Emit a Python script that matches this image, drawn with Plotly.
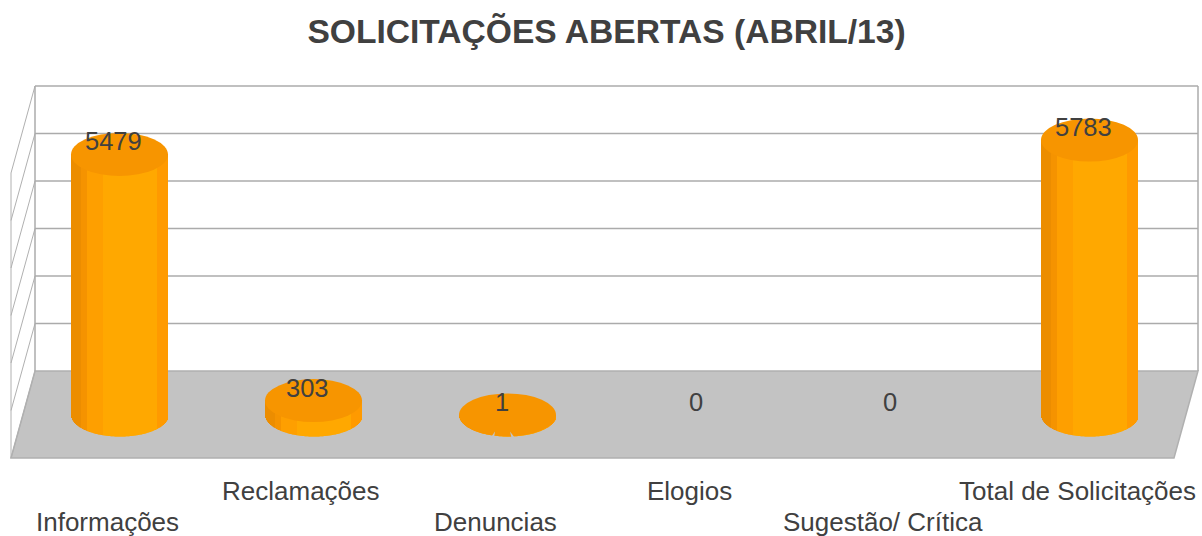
import math
import plotly.graph_objects as go

# ---- chart content ----
CATEGORIES = ["Informações", "Reclamações", "Denuncias", "Elogios", "Sugestão/ Crítica", "Total de Solicitações"]
VALUES = [5479, 303, 1, 0, 0, 5783]
LABEL_ROW = [1, 0, 1, 0, 1, 0]
TITLE = "SOLICITAÇÕES ABERTAS (ABRIL/13)"
GRID_STEPS = [0, 1, 2, 3, 4, 5, 6]

# ---- style ----
W, H = 1202, 536
AXIS_PX = 476
X0_PX, STEP_PX = 119.5, 194.0
ZERO_PX = 415.0
PX_PER_UNIT = 0.04755
RADIUS_PX = 48.5
ELLIPSE_PX = 21.5
TEXT = "#404040"
TOP_COLOR = "#F79500"
BAND_EDGES = [-48.5, -38, -32, -16, 38, 48.5]
BAND_COLORS = ["#EC8D00", "#F59300", "#FE9F00", "#FFA800", "#FF9A00"]
ROW_PX = [491, 522]

x_range = [(0 - X0_PX) / STEP_PX, (W - X0_PX) / STEP_PX]
y_range = [(ZERO_PX - AXIS_PX) / PX_PER_UNIT, ZERO_PX / PX_PER_UNIT]

def px(x):
    return x / W

def py(y):
    return 1 - y / AXIS_PX

def band_color(u):
    for k, c in enumerate(BAND_COLORS):
        if u < BAND_EDGES[k + 1]:
            return c
    return BAND_COLORS[-1]

# cylinder bodies: thin vertical strips per category
bx, by, bbase, boff, bw, bc = [], [], [], [], [], []
for i, v in enumerate(VALUES):
    if v <= 0:
        continue
    u = -RADIUS_PX
    while u < RADIUS_PX:
        mid = u + 0.5
        arc = ELLIPSE_PX * math.sqrt(max(0, 1 - (mid / RADIUS_PX) ** 2)) / PX_PER_UNIT
        bx.append(i)
        bbase.append(-arc)
        by.append(v + arc)
        boff.append(u / STEP_PX)
        bw.append(min(2.0, RADIUS_PX - u) / STEP_PX)
        bc.append(band_color(mid))
        u += 1

fig = go.Figure(go.Bar(
    x=bx, y=by, base=bbase, offset=boff, width=bw,
    marker=dict(color=bc, line=dict(width=0)),
    hoverinfo="skip", showlegend=False,
))

shapes = []
GRID = "#ABABAB"
FLOOR = "#C3C3C3"
BX0, BX1 = 35, 1198
FLOOR_BACK, GRID_PX = 371, 47.5
DEPTH_X, DEPTH_Y = 24, 87

def poly(points, fill=None, color=GRID, width=1.5, layer="below"):
    path = "M " + " L ".join(f"{px(a)},{py(b)}" for a, b in points) + (" Z" if fill else "")
    return dict(type="path", xref="paper", yref="paper", path=path, layer=layer,
                fillcolor=fill or "rgba(0,0,0,0)", line=dict(color=color, width=width))

shapes.append(poly([(BX0, FLOOR_BACK), (BX1, FLOOR_BACK), (BX1 - DEPTH_X, FLOOR_BACK + DEPTH_Y),
                    (BX0 - DEPTH_X, FLOOR_BACK + DEPTH_Y)], fill=FLOOR, color="#B0B0B0"))
for k in GRID_STEPS:
    y = FLOOR_BACK - GRID_PX * k
    if k > 0:
        shapes.append(poly([(BX0, y), (BX1, y)]))
    shapes.append(poly([(BX0, y), (BX0 - DEPTH_X, y + DEPTH_Y)], color="#B0B0B0", width=1))
shapes.append(poly([(BX0, FLOOR_BACK), (BX0, FLOOR_BACK - GRID_PX * 6)]))
shapes.append(poly([(BX1, FLOOR_BACK), (BX1, FLOOR_BACK - GRID_PX * 6)]))
shapes.append(poly([(BX0 - DEPTH_X, FLOOR_BACK + DEPTH_Y), (BX0 - DEPTH_X, FLOOR_BACK - GRID_PX * 6 + DEPTH_Y)],
                   color="#B0B0B0", width=1))

# cylinder tops, tied to the values
for i, v in enumerate(VALUES):
    if v <= 0:
        continue
    shapes.append(dict(type="circle", xref="x", yref="y", layer="above",
                       x0=i - RADIUS_PX / STEP_PX, x1=i + RADIUS_PX / STEP_PX,
                       y0=v - ELLIPSE_PX / PX_PER_UNIT, y1=v + ELLIPSE_PX / PX_PER_UNIT,
                       fillcolor=TOP_COLOR, line=dict(width=0)))

# small rendering nicks at the foot of the flat disc
shapes.append(poly([(490.5, 438), (494, 438), (495, 431.5)], fill=FLOOR, color=FLOOR, width=0, layer="above"))
shapes.append(poly([(510, 431.5), (511.5, 438), (515, 438)], fill=FLOOR, color=FLOOR, width=0, layer="above"))

annotations = [dict(x=i, y=v, xref="x", yref="y", text=str(v), showarrow=False,
                    xshift=-6, yshift=13, font=dict(size=25.5, color=TEXT))
               for i, v in enumerate(VALUES)]
annotations += [dict(x=i, xref="x", y=py(ROW_PX[r]), yref="paper", text=c, showarrow=False,
                     xshift=-12.5, yanchor="middle", font=dict(size=26, color=TEXT))
                for i, (c, r) in enumerate(zip(CATEGORIES, LABEL_ROW))]

fig.update_layout(
    width=W, height=H, autosize=False,
    margin=dict(l=0, r=0, t=0, b=H - AXIS_PX, pad=0),
    paper_bgcolor="white", plot_bgcolor="rgba(0,0,0,0)",
    barmode="overlay",
    font=dict(family="Liberation Sans, Arial, sans-serif", color=TEXT),
    title=dict(text=f"<b>{TITLE}</b>", x=606.5 / W, xanchor="center", y=1 - 31 / H, yanchor="middle",
               font=dict(size=33.6, color=TEXT)),
    xaxis=dict(range=x_range, showgrid=False, zeroline=False, showline=False, ticks="",
               showticklabels=False),
    yaxis=dict(range=y_range, visible=False, showgrid=False, zeroline=False),
    shapes=shapes, annotations=annotations,
)

fig.write_html("out.html", config={"displayModeBar": False},
               post_script="document.body.style.margin='0';")
